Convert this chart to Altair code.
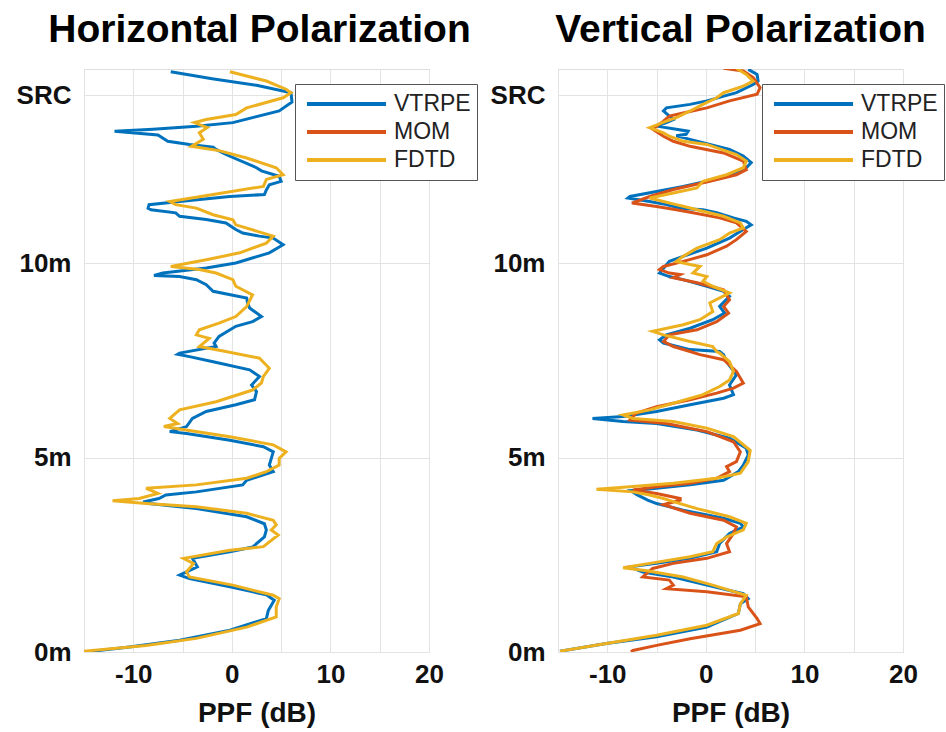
import altair as alt
import pandas as pd

FONT = "Liberation Sans"
SERIES = ["VTRPE", "MOM", "FDTD"]
COLORS = ["#0072BD", "#D95319", "#EDB120"]
SRC_HEIGHT = 14.32
Y_TICKS = [0, 5, 10, SRC_HEIGHT]
X_GRID = [-15, -10, -5, 0, 5, 10, 15, 20]

# ---- Horizontal polarization ----
H_VTRPE_DB = [-6.2, -2.0, 2.5, 6.0, 6.1, 4.8, 0.1, -3.6, -8.0, -11.9, -7.5, -6.5, -4.3, -1.9, -1.6, -0.6, 2.5, 3.0, 4.8, 5.0,
              3.8, 3.5, 3.3, -0.2, -5.3, -8.4, -8.5, -8.2, -5.7, -5.3, -2.6, -0.6, 0.4, 1.1, 2.8, 4.2, 5.2, 3.8, 0.4, -2.6,
              -7.0, -7.9, -5.3, -3.6, -2.6, -1.9, 1.5, 1.6, 1.8, 3.0, 2.1, 0.4, -1.3, -1.8, -1.6, -5.3, -5.5, -4.3, -1.9, 1.8,
              2.8, 2.0, 2.5, 2.3, 0.4, -2.6, -4.0, -4.6, -6.3, -4.6, -0.2, 3.2, 4.2, 3.8, 4.2, 1.5, 1.1, -3.6, -6.7, -7.4,
              -9.0, -8.4, -3.6, 1.5, 3.3, 3.5, 3.3, 2.1, -0.2, -4.0, -3.5, -5.3, -4.3, -0.2, 3.5, 4.3, 3.7, 3.5, -0.2, -5.3,
              -10.4, -14.8]
H_VTRPE_M = [14.93, 14.75, 14.58, 14.39, 14.15, 13.92, 13.62, 13.53, 13.45, 13.40, 13.30, 13.14, 13.06, 12.99, 12.93, 12.80, 12.46, 12.38, 12.24, 12.11,
             12.02, 11.89, 11.77, 11.72, 11.59, 11.51, 11.42, 11.38, 11.30, 11.21, 11.13, 11.04, 10.87, 10.78, 10.70, 10.65, 10.48, 10.27, 10.01, 9.88,
             9.75, 9.69, 9.66, 9.58, 9.45, 9.28, 9.11, 8.98, 8.85, 8.63, 8.50, 8.38, 8.12, 7.95, 7.86, 7.69, 7.66, 7.60, 7.47, 7.26,
             7.09, 6.87, 6.70, 6.49, 6.36, 6.19, 6.01, 5.80, 5.67, 5.62, 5.45, 5.28, 5.15, 4.81, 4.64, 4.42, 4.30, 4.12, 4.04, 3.95,
             3.86, 3.82, 3.69, 3.48, 3.30, 3.14, 2.96, 2.70, 2.58, 2.41, 2.19, 1.98, 1.89, 1.68, 1.47, 1.33, 1.07, 0.86, 0.56, 0.30,
             0.13, 0.0]

H_FDTD_DB = [-0.2, 3.5, 5.5, 6.0, 5.2, 1.5, 0.4, -2.6, -3.8, -2.5, -3.3, -2.9, -4.1, -1.3, 1.5, 4.5, 5.2, 3.5, 3.2, -1.9,
             -6.3, -5.7, -3.6, -1.9, 0.1, 0.4, 2.5, 4.2, 3.5, 0.8, -2.6, -6.2, -3.3, -1.6, 0.1, 0.4, 2.1, 1.5, 0.4, -1.3,
             -3.3, -3.6, -2.3, -3.3, -1.0, 2.8, 3.8, 3.2, 3.0, 2.1, -1.6, -5.3, -6.3, -5.5, -6.9, -5.3, -0.2, 4.2, 5.5, 4.8,
             4.8, 3.5, 1.5, -3.6, -8.7, -7.5, -9.4, -12.1, -8.7, -3.6, 1.5, 4.2, 4.5, 4.0, 4.7, 3.2, -0.2, -4.9, -3.9, -4.6,
             -4.3, 0.1, 4.2, 4.8, 4.5, 4.5, 1.5, -3.6, -8.7, -15.0]
H_FDTD_M = [14.93, 14.69, 14.48, 14.39, 14.26, 14.00, 13.83, 13.70, 13.62, 13.49, 13.36, 13.19, 13.01, 12.90, 12.71, 12.46, 12.28, 12.16, 11.98, 11.77,
            11.59, 11.51, 11.42, 11.25, 11.12, 10.99, 10.83, 10.70, 10.52, 10.27, 10.09, 9.92, 9.84, 9.75, 9.58, 9.41, 9.19, 8.89, 8.63, 8.46,
            8.29, 8.16, 8.07, 7.86, 7.75, 7.56, 7.30, 7.09, 6.92, 6.74, 6.44, 6.23, 6.01, 5.88, 5.80, 5.74, 5.54, 5.33, 5.15, 4.98,
            4.81, 4.64, 4.47, 4.30, 4.21, 4.08, 3.95, 3.89, 3.82, 3.74, 3.57, 3.39, 3.27, 3.14, 3.01, 2.71, 2.62, 2.41, 2.28, 2.06,
            1.93, 1.72, 1.46, 1.37, 1.16, 0.90, 0.64, 0.35, 0.17, 0.02]

# ---- Vertical polarization ----
V_VTRPE_DB = [4.3, 5.2, 5.3, 4.8, 3.1, 0.1, -1.6, -4.0, -4.3, -3.7, -3.3, -4.0, -5.0, -3.0, -1.8, -2.0, -3.0, -1.6, 0.4, 2.4,
              3.8, 4.6, 4.1, 2.4, 0.1, -2.3, -5.0, -7.7, -7.9, -5.7, -4.0, -2.6, -0.3, 1.1, 2.8, 4.1, 4.6, 3.8, 2.4, 0.1,
              -2.3, -3.7, -4.7, -3.7, -2.3, 0.1, 1.8, 2.4, 1.4, 1.9, 0.7, -1.6, -4.0, -4.7, -4.3, -1.6, 1.4, 1.8, 2.1, 3.1,
              2.4, 2.8, 1.8, -1.6, -5.0, -8.4, -11.5, -8.4, -5.0, -0.9, 2.4, 4.1, 4.3, 3.8, 3.3, 1.8, -1.6, -5.5, -7.6, -7.0,
              -5.9, -5.0, -2.3, 1.8, 3.5, 3.8, 2.4, 1.4, 1.1, -1.6, -5.0, -7.7, -6.4, -3.3, 0.1, 3.8, 4.3, 3.5, 3.3, 0.1,
              -5.0, -10.1, -14.8]
V_VTRPE_M = [14.99, 14.86, 14.69, 14.60, 14.39, 14.18, 14.09, 14.00, 13.92, 13.79, 13.70, 13.62, 13.53, 13.45, 13.40, 13.32, 13.28, 13.19, 13.06, 12.93,
             12.76, 12.59, 12.46, 12.28, 12.11, 11.98, 11.85, 11.72, 11.68, 11.59, 11.51, 11.42, 11.38, 11.30, 11.17, 11.08, 10.99, 10.87, 10.65, 10.39,
             10.18, 10.05, 9.75, 9.66, 9.58, 9.41, 9.28, 9.15, 8.89, 8.72, 8.55, 8.33, 8.16, 8.03, 7.95, 7.78, 7.73, 7.65, 7.47, 7.13,
             6.87, 6.62, 6.53, 6.36, 6.19, 6.06, 6.01, 5.93, 5.88, 5.71, 5.50, 5.24, 5.07, 4.81, 4.64, 4.42, 4.30, 4.20, 4.15, 4.05,
             3.91, 3.82, 3.65, 3.44, 3.31, 3.22, 3.05, 2.79, 2.58, 2.41, 2.28, 2.19, 2.06, 1.93, 1.72, 1.50, 1.37, 1.24, 0.99, 0.64,
             0.39, 0.22, 0.02]

V_MOM_DB = [1.8, 3.8, 4.8, 5.5, 5.2, 2.4, 0.1, -2.3, -3.7, -4.3, -5.4, -4.3, -3.3, -1.6, 1.8, 3.8, 4.1, 3.1, 0.4, -3.3,
            -5.7, -7.5, -5.0, -3.0, -1.3, 1.4, 3.1, 4.1, 3.1, 2.1, 0.1, -2.3, -4.3, -4.7, -3.7, -2.6, -3.3, -0.9, 1.8, 2.4,
            1.8, 2.3, 1.1, -0.9, -3.7, -4.3, -3.3, -1.6, -0.6, 1.8, 3.1, 3.8, 2.8, 1.1, -1.6, -5.0, -7.1, -7.7, -4.0, 0.1,
            2.8, 3.5, 3.1, 2.1, 2.4, 1.1, -1.6, -5.0, -7.4, -5.0, -2.6, -2.6, -4.3, -1.6, 1.8, 3.1, 2.8, 2.1, 2.4, 0.1,
            -3.3, -5.4, -6.4, -3.7, -3.3, -4.0, 0.1, 4.1, 4.3, 5.2, 5.5, 3.5, -1.6, -5.0, -7.4, -7.6]
V_MOM_M = [15.02, 14.95, 14.78, 14.52, 14.35, 14.18, 14.00, 13.87, 13.79, 13.66, 13.45, 13.27, 13.14, 13.01, 12.84, 12.63, 12.41, 12.28, 12.11, 11.90,
           11.72, 11.55, 11.46, 11.38, 11.30, 11.17, 11.04, 10.82, 10.61, 10.44, 10.22, 10.05, 9.92, 9.84, 9.75, 9.71, 9.63, 9.50, 9.32, 9.06,
           8.89, 8.72, 8.50, 8.29, 8.16, 7.99, 7.86, 7.73, 7.65, 7.52, 7.22, 6.92, 6.79, 6.66, 6.49, 6.31, 6.14, 5.97, 5.88, 5.67,
           5.41, 5.15, 4.90, 4.77, 4.64, 4.47, 4.34, 4.25, 4.17, 4.08, 3.95, 3.91, 3.79, 3.57, 3.39, 3.22, 3.05, 2.79, 2.58, 2.41,
           2.28, 2.15, 1.93, 1.85, 1.72, 1.63, 1.55, 1.42, 1.16, 0.86, 0.73, 0.56, 0.34, 0.17, 0.04, 0.0]

V_FDTD_DB = [3.1, 4.1, 4.8, 3.8, 1.8, 1.1, -0.3, -1.6, -3.0, -4.0, -5.7, -4.3, -3.7, -2.3, 0.1, 3.1, 4.1, 3.8, 2.1, -0.3,
             -0.9, -3.3, -5.7, -4.3, -3.0, -2.3, -0.3, 1.8, 3.5, 3.8, 2.4, 1.4, -0.9, -2.3, -3.0, -1.6, -0.6, -1.3, 0.1, -0.3,
             0.7, 2.4, 0.4, 0.7, -0.6, -2.3, -5.4, -4.3, -1.6, 0.7, 1.1, 1.4, 2.4, 2.8, 2.4, 1.4, -0.3, -3.3, -5.7, -8.4,
             -7.4, -3.3, 0.1, 2.8, 4.5, 4.3, 3.5, 1.1, -3.3, -7.7, -11.1, -7.4, -5.7, -4.3, -3.3, -0.9, 2.4, 4.1, 3.8, 2.1,
             1.1, 0.7, -1.6, -5.7, -8.4, -6.0, -2.3, 0.7, 4.1, 3.5, 3.3, 0.1, -5.0, -10.1, -14.8]
V_FDTD_M = [15.02, 14.86, 14.69, 14.56, 14.39, 14.26, 14.09, 13.92, 13.75, 13.66, 13.49, 13.36, 13.27, 13.14, 13.06, 12.80, 12.63, 12.46, 12.28, 12.11,
            11.94, 11.81, 11.68, 11.59, 11.51, 11.47, 11.34, 11.21, 11.04, 10.91, 10.78, 10.61, 10.39, 10.18, 10.05, 9.97, 9.92, 9.75, 9.66, 9.54,
            9.41, 9.24, 8.98, 8.76, 8.55, 8.42, 8.25, 8.16, 7.99, 7.86, 7.73, 7.69, 7.47, 7.22, 7.00, 6.83, 6.62, 6.40, 6.23, 6.10,
            6.01, 5.93, 5.76, 5.54, 5.19, 4.90, 4.60, 4.47, 4.34, 4.25, 4.19, 4.12, 4.04, 3.95, 3.87, 3.69, 3.48, 3.31, 3.14, 2.96,
            2.79, 2.58, 2.45, 2.28, 2.17, 2.09, 1.93, 1.72, 1.46, 1.24, 0.99, 0.69, 0.43, 0.22, 0.02]


def build(series_list):
    rows = []
    for name, dbs, ms in series_list:
        for i, (d, m) in enumerate(zip(dbs, ms)):
            rows.append({"series": name, "ppf": d, "h": m, "idx": i})
    return pd.DataFrame(rows)


h_df = build([("VTRPE", H_VTRPE_DB, H_VTRPE_M), ("FDTD", H_FDTD_DB, H_FDTD_M)])
v_df = build([("VTRPE", V_VTRPE_DB, V_VTRPE_M), ("MOM", V_MOM_DB, V_MOM_M), ("FDTD", V_FDTD_DB, V_FDTD_M)])

y_label_expr = ("datum.value == 0 ? '0m' : datum.value == 5 ? '5m' : "
                "datum.value == 10 ? '10m' : 'SRC'")

AXIS_STYLE = dict(
    domain=False, ticks=False, grid=True, gridColor="#e3e3e3", gridWidth=1,
    labelFont=FONT, labelFontSize=26, labelFontWeight="bold", labelColor="#111111",
    titleFont=FONT, titleFontSize=28, titleFontWeight="bold", titleColor="#111111",
    labelFlush=False, labelOverlap=False,
)


def panel(df, title, legend_x, title_dx):
    legend = alt.Legend(
        orient="none", legendX=legend_x, legendY=15, title=None,
        symbolType="stroke", symbolSize=6241, symbolStrokeWidth=4,
        labelFont=FONT, labelFontSize=23, labelColor="#222222",
        strokeColor="#555555", fillColor="white", padding=6,
        clipHeight=28, rowPadding=0, labelOffset=6, symbolOffset=4,
    )
    return alt.Chart(
        df,
        title=alt.TitleParams(title, font=FONT, fontSize=39, fontWeight="bold",
                              color="black", anchor="middle", offset=19, dx=title_dx),
    ).mark_line(strokeWidth=3, clip=True).encode(
        x=alt.X("ppf:Q", scale=alt.Scale(domain=[-15, 20], nice=False, zero=False),
                axis=alt.Axis(values=X_GRID, title="PPF (dB)",
                              labelExpr="datum.value % 10 == 0 ? toString(datum.value) : ''",
                              labelPadding=9, titlePadding=12, **AXIS_STYLE)),
        y=alt.Y("h:Q", scale=alt.Scale(domain=[0, 15], nice=False, zero=False),
                axis=alt.Axis(values=Y_TICKS, title=None, labelExpr=y_label_expr,
                              labelPadding=13, **AXIS_STYLE)),
        color=alt.Color("series:N", scale=alt.Scale(domain=SERIES, range=COLORS), legend=legend),
        order=alt.Order("idx:Q"),
    ).properties(width=345, height=583)


left = panel(h_df, "Horizontal Polarization", 211, 3)
right = panel(v_df, "Vertical Polarization", 204, 10)

chart = alt.hconcat(left, right, spacing=129, bounds="flush").resolve_scale(
    color="independent"
).resolve_legend(color="independent").properties(
    padding={"left": 15, "top": 10, "right": 0, "bottom": 5}
).configure_view(
    stroke="#8a8a8a", strokeWidth=1.5
).configure(background="white")

chart.save("out.html", embed_options={"renderer": "svg", "actions": False})
